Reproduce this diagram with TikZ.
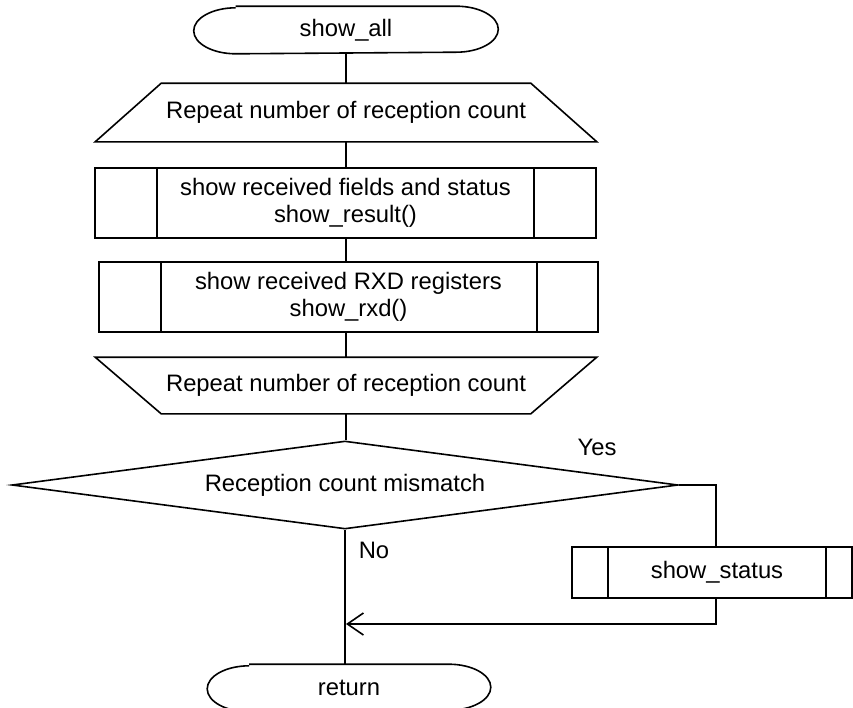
\documentclass[tikz,border=0pt]{standalone}
\usepackage{fontspec}
\setmainfont{Liberation Sans}
\usetikzlibrary{shapes.geometric,arrows.meta}

\begin{document}
\begin{tikzpicture}[x=1pt,y=-1pt,line width=1.6pt,
    every node/.style={font=\fontsize{23.8}{27.5}\selectfont,inner sep=0pt,align=center},
    term/.style={minimum width=303pt,minimum height=46pt},
    loopbox/.style={minimum width=500pt,minimum height=57pt},
    subbox/.style={draw,minimum height=70pt},
    decide/.style={draw,diamond,aspect=7.5,minimum width=666pt,minimum height=88pt},
    flow/.style={-{Straight Barb[length=16pt,width=22pt]}}]%
\useasboundingbox (0,0) rectangle (853,707);
%
% Start / return
\node [term] (start) at (346,30) {show\_all};
\node [term,minimum width=282pt] (stop) at (349,688) {return};
\foreach \n in {start,stop}
  \draw ([xshift=42pt]\n.north west) -- ([xshift=-42pt]\n.north east)
        arc [start angle=90,end angle=-90,x radius=42pt,y radius=23pt]
     -- ([xshift=42pt]\n.south west)
        arc [start angle=270,end angle=90,x radius=42pt,y radius=23pt];
%
% Loop limits
\node [loopbox] (loopA) at (346,112.5) {Repeat number of reception count};
\draw (loopA.south west) -- ([xshift=66pt]loopA.north west)
   -- ([xshift=-66pt]loopA.north east) -- (loopA.south east) -- cycle;
\node [loopbox,minimum height=55pt] (loopB) at (346,385.5) {Repeat number of reception count};
\draw (loopB.north west) -- ([xshift=66pt]loopB.south west)
   -- ([xshift=-66pt]loopB.south east) -- (loopB.north east) -- cycle;
%
% Subroutines
\node [subbox,minimum width=501pt] (result) at (345.5,203)
      {show received fields and status\\show\_result()};
\node [subbox,minimum width=499pt] (rxd) at (348.5,297)
      {show received RXD registers\\show\_rxd()};
\node [subbox,minimum width=280pt,minimum height=51pt] (status) at (712,572.5)
      {\hspace*{10pt}show\_status};
\foreach \n/\a/\b in {result/63/63,rxd/63/62,status/37/27}
  \draw ([xshift=\a pt]\n.north west) -- ([xshift=\a pt]\n.south west)
        ([xshift=-\b pt]\n.north east) -- ([xshift=-\b pt]\n.south east);
%
% Decision
\node [decide] (check) at (345,485) {Reception count mismatch};
\node (yes) at (597,447) {Yes};
\node (no) at (374,550) {No};
\coordinate (join) at (346,624);
%
% Connectors
\draw (start.south) -- (start.south |- loopA.north);
\draw (loopA.south) -- (loopA.south |- result.north);
\draw (loopA.south |- result.south) -- (loopA.south |- rxd.north);
\draw (loopA.south |- rxd.south) -- (loopB.north);
\draw (loopB.south) -- (loopB.south |- check.north);
\draw (check.south) -- (check.south |- stop.north);
\draw (check.east) -| ([xshift=4pt]status.north);
\draw [flow] ([xshift=4pt]status.south) |- (join);
%
\end{tikzpicture}
\end{document}
